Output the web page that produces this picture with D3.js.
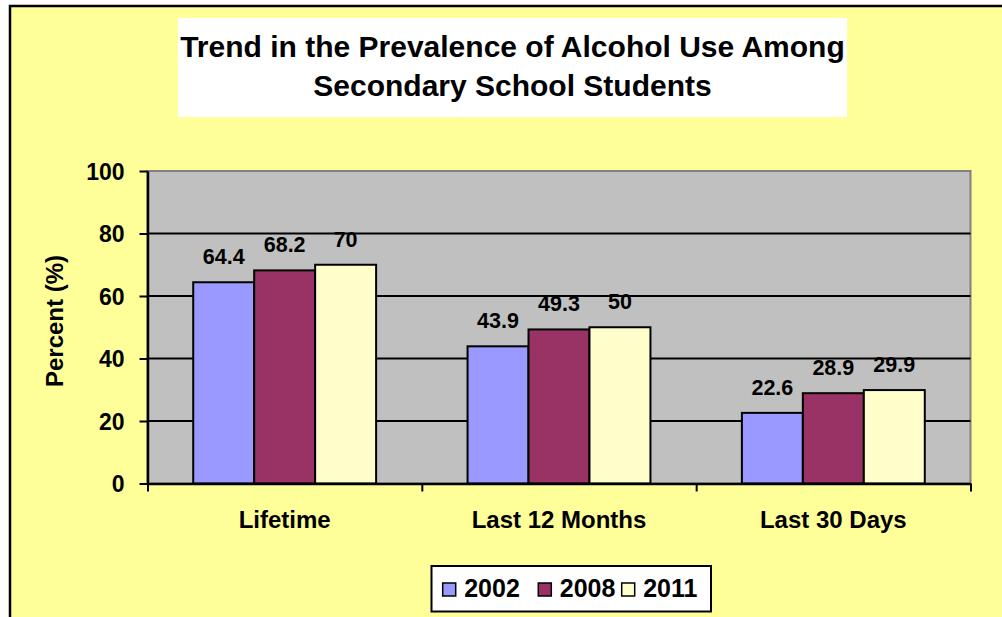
<!DOCTYPE html>
<html>
<head>
<meta charset="utf-8">
<script src="https://cdn.jsdelivr.net/npm/d3@7"></script>
<style>
  html, body { margin: 0; padding: 0; background: #ffffff; }
  svg { display: block; font-family: "Liberation Sans", Arial, sans-serif; font-weight: bold; }
</style>
</head>
<body>
<svg id="chart" width="1002" height="617"></svg>
<script>
const categories = ["Lifetime", "Last 12 Months", "Last 30 Days"];
const years = ["2002", "2008", "2011"];
const values2002 = [64.4, 43.9, 22.6];
const values2008 = [68.2, 49.3, 28.9];
const values2011 = [70, 50, 29.9];
const yTicks = [0, 20, 40, 60, 80, 100];
const titleLines = ["Trend in the Prevalence of Alcohol Use Among", "Secondary School Students"];
const yTitle = "Percent (%)";
const colors = ["#9999FF", "#993366", "#FFFFCC"];

const series = [values2002, values2008, values2011];
const data = categories.map((c, i) => ({
  cat: c,
  vals: years.map((y, j) => ({ year: y, value: series[j][i], color: colors[j] }))
}));

const svg = d3.select("#chart");

// chart area background + border
svg.append("rect").attr("x", 10).attr("y", 6).attr("width", 1010).attr("height", 640)
  .attr("fill", "#FFFF99").attr("stroke", "#000").attr("stroke-width", 2.5);

// title box
svg.append("rect").attr("x", 178).attr("y", 18).attr("width", 669).attr("height", 99).attr("fill", "#fff");
svg.append("g").selectAll("text").data(titleLines).join("text")
  .attr("x", 512.5).attr("y", (d, i) => 57 + i * 38.5)
  .attr("text-anchor", "middle").attr("font-size", 30).attr("fill", "#000")
  .text(d => d);

const pLeft = 147.5, pRight = 970.5, pTop = 171, pBottom = 483.5;

// plot area
svg.append("rect").attr("x", pLeft).attr("y", pTop).attr("width", pRight - pLeft).attr("height", pBottom - pTop)
  .attr("fill", "#C0C0C0").attr("stroke", "#808080").attr("stroke-width", 2);

const y = d3.scaleLinear().domain([0, 100]).range([pBottom, pTop]);
const x0 = d3.scaleBand().domain(categories).range([pLeft, pRight]).padding(0);
const gap = x0.bandwidth() * 1.5 / 4.5;
const x1 = d3.scaleBand().domain(years).range([gap / 2, x0.bandwidth() - gap / 2]).padding(0);

// gridlines
svg.append("g").selectAll("line").data(yTicks.filter(t => t > 0 && t < 100)).join("line")
  .attr("x1", pLeft).attr("x2", pRight).attr("y1", d => y(d)).attr("y2", d => y(d))
  .attr("stroke", "#000").attr("stroke-width", 2);

// bars
const groups = svg.append("g").selectAll("g").data(data).join("g")
  .attr("transform", d => `translate(${x0(d.cat)},0)`);
groups.selectAll("rect").data(d => d.vals).join("rect")
  .attr("x", d => x1(d.year)).attr("width", x1.bandwidth())
  .attr("y", d => y(d.value)).attr("height", d => y(0) - y(d.value))
  .attr("fill", d => d.color).attr("stroke", "#000").attr("stroke-width", 2);
groups.selectAll("text").data(d => d.vals).join("text")
  .attr("x", d => x1(d.year) + x1.bandwidth() / 2).attr("y", d => y(d.value) - 18)
  .attr("text-anchor", "middle").attr("font-size", 21.5).attr("fill", "#000")
  .text(d => d.value);

// y axis
const yAxis = svg.append("g").attr("transform", `translate(${pLeft},0)`)
  .call(d3.axisLeft(y).tickValues(yTicks).tickSize(8).tickPadding(15).tickSizeOuter(0));
yAxis.select(".domain").attr("stroke", "#000").attr("stroke-width", 2.5);
yAxis.selectAll(".tick line").attr("stroke", "#000").attr("stroke-width", 2);
yAxis.selectAll(".tick text").attr("font-size", 23).attr("font-family", "Liberation Sans, Arial, sans-serif")
  .attr("font-weight", "bold").attr("fill", "#000").attr("dy", "0.36em");

// x axis (category boundaries)
const xb = d3.scaleLinear().domain([0, categories.length]).range([pLeft, pRight]);
const xAxis = svg.append("g").attr("transform", `translate(0,${pBottom})`)
  .call(d3.axisBottom(xb).tickValues(d3.range(categories.length + 1)).tickSize(8).tickFormat("").tickSizeOuter(0));
xAxis.select(".domain").attr("stroke", "#000").attr("stroke-width", 2.5);
xAxis.selectAll(".tick line").attr("stroke", "#000").attr("stroke-width", 2);

svg.append("g").selectAll("text").data(categories).join("text")
  .attr("x", d => x0(d) + x0.bandwidth() / 2).attr("y", 528)
  .attr("text-anchor", "middle").attr("font-size", 24).attr("fill", "#000")
  .text(d => d);

// y title
svg.append("text").attr("transform", "translate(63,321) rotate(-90)")
  .attr("text-anchor", "middle").attr("font-size", 24).attr("fill", "#000").text(yTitle);

// legend
const lg = svg.append("g");
lg.append("rect").attr("x", 431.5).attr("y", 566).attr("width", 279.5).attr("height", 45.5)
  .attr("fill", "#fff").attr("stroke", "#000").attr("stroke-width", 2);
const legX = [442.7, 538.3, 621.7];
const items = lg.selectAll("g").data(years).join("g")
  .attr("transform", (d, i) => `translate(${legX[i]},583)`);
items.append("rect").attr("width", 13).attr("height", 13)
  .attr("fill", (d, i) => colors[i]).attr("stroke", "#000").attr("stroke-width", 1.5);
items.append("text").attr("x", 21.5).attr("y", 14).attr("font-size", 25).attr("fill", "#000").text(d => d);
</script>
</body>
</html>
